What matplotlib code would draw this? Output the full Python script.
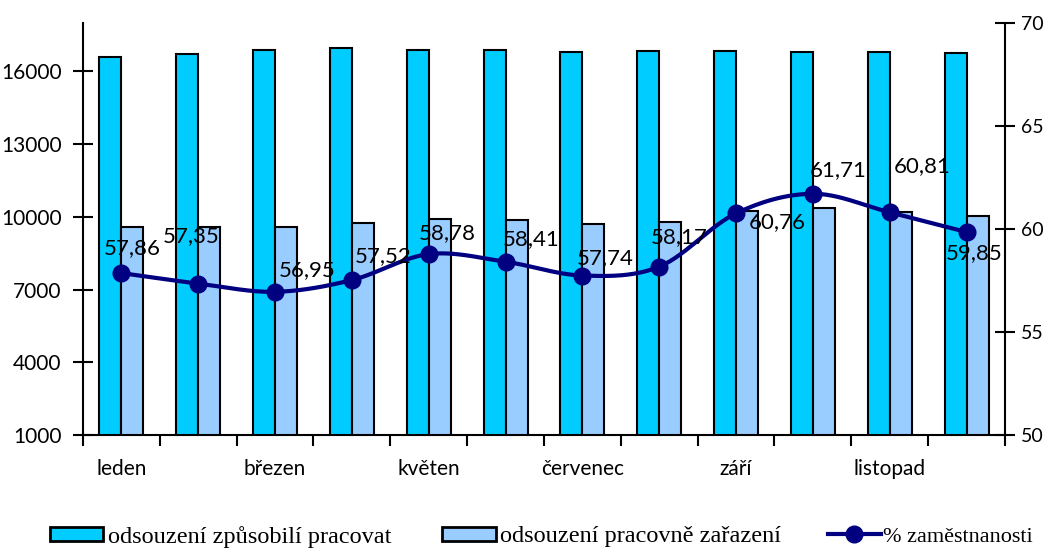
import numpy as np
import matplotlib
matplotlib.use('Agg')
import matplotlib.pyplot as plt
from matplotlib.patches import Patch
from matplotlib.lines import Line2D

months = ['leden', 'únor', 'březen', 'duben', 'květen', 'červen',
          'červenec', 'srpen', 'září', 'říjen', 'listopad', 'prosinec']
zpusobili = [16590, 16710, 16880, 16950, 16900, 16900,
             16810, 16830, 16850, 16810, 16790, 16760]
zarazeni = [9595, 9600, 9595, 9760, 9930, 9870,
            9720, 9790, 10230, 10380, 10200, 10020]
zamestnanost = [57.86, 57.35, 56.95, 57.52, 58.78, 58.41,
                57.74, 58.17, 60.76, 61.71, 60.81, 59.85]

# label offsets in pixels (dx, dy) relative to the marker
label_offsets = [(11, 25), (-7, 47), (32, 22), (31, 24), (19, 21), (26, 23),
                 (23, 17), (20, 30), (41, -9), (25, 24), (32, 46), (8, -21)]

c1 = '#00CCFF'
c2 = '#99CCFF'
navy = '#000080'
sans = ['Lato', 'DejaVu Sans']
serif = ['Liberation Serif', 'DejaVu Serif']


def catmull_rom(x, y, n=30):
    # smooth curve through the points, like Excel's "smoothed line"
    pts = np.column_stack([x, y]).astype(float)
    pts = np.vstack([2 * pts[0] - pts[1], pts, 2 * pts[-1] - pts[-2]])
    out = []
    t = np.linspace(0, 1, n)[:, None]
    for i in range(1, len(pts) - 2):
        p0, p1, p2, p3 = pts[i - 1], pts[i], pts[i + 1], pts[i + 2]
        seg = 0.5 * ((2 * p1) + (-p0 + p2) * t
                     + (2 * p0 - 5 * p1 + 4 * p2 - p3) * t ** 2
                     + (-p0 + 3 * p1 - 3 * p2 + p3) * t ** 3)
        out.append(seg if i == 1 else seg[1:])
    out = np.vstack(out)
    return out[:, 0], out[:, 1]


fig = plt.figure(figsize=(10.45, 5.49), dpi=100)
ax = fig.add_axes([0.0794, 0.2077, 0.8823, 0.7504])
ax2 = ax.twinx()

x = np.arange(len(months))
w = 0.286
ax.bar(x - w / 2, zpusobili, w, color=c1, edgecolor='black', linewidth=1.5, zorder=2)
ax.bar(x + w / 2, zarazeni, w, color=c2, edgecolor='black', linewidth=1.5, zorder=2)

ax.set_xlim(-0.5, len(months) - 0.5)
ax.set_ylim(1000, 18000)
ax.set_yticks([1000, 4000, 7000, 10000, 13000, 16000])

# ticks at category borders, labels at every other category centre
ax.set_xticks(np.arange(-0.5, len(months), 1.0))
ax.set_xticklabels([])
ax.set_xticks(x[::2], minor=True)
ax.set_xticklabels(months[::2], minor=True, fontsize=15, family=sans)
ax.tick_params(axis='x', which='major', direction='out', length=8, width=1.5)
ax.tick_params(axis='x', which='minor', length=0, pad=17)
ax.tick_params(axis='y', direction='inout', length=15, width=1.5, labelsize=15, pad=8)
for lab in ax.get_yticklabels():
    lab.set_family(sans)

for s in ['top', 'right']:
    ax.spines[s].set_visible(False)
ax.spines['left'].set_linewidth(1.5)
ax.spines['bottom'].set_linewidth(1.5)

sx, sy = catmull_rom(x, zamestnanost)
ax2.plot(sx, sy, color=navy, linewidth=3, zorder=3)
ax2.plot(x, zamestnanost, 'o', color=navy, markersize=12, zorder=4)
ax2.set_ylim(50, 70)
ax2.set_yticks([50, 55, 60, 65, 70])
ax2.tick_params(axis='y', direction='inout', length=15, width=1.5, labelsize=14, pad=4)
for lab in ax2.get_yticklabels():
    lab.set_family(sans)
for s in ['top', 'left', 'bottom']:
    ax2.spines[s].set_visible(False)
ax2.spines['right'].set_linewidth(1.5)

for xi, v, (dx, dy) in zip(x, zamestnanost, label_offsets):
    ax2.annotate(f'{v:.2f}'.replace('.', ','), (xi, v), xytext=(dx, dy),
                 textcoords='offset pixels', ha='center', va='center',
                 fontsize=16, family=sans, color='black', zorder=5)

# legend below the chart, three separate entries
handles = [
    Patch(facecolor=c1, edgecolor='black', linewidth=2),
    Patch(facecolor=c2, edgecolor='black', linewidth=2),
    Line2D([0], [0], color=navy, linewidth=3, marker='o', markersize=12),
]
names = ['odsouzení způsobilí pracovat', 'odsouzení pracovně zařazení', '% zaměstnanosti']
anchors = [0.0478, 0.423, 0.792]
pads = [0.2, 0.2, 0.1]
sizes = [17.5, 17.5, 16]
hlens = [2.2, 2.2, 2.4]
for h, n, a, p, fs, hl in zip(handles, names, anchors, pads, sizes, hlens):
    fig.legend([h], [n], loc='center left', bbox_to_anchor=(a, 0.022),
               frameon=False, handlelength=hl, handleheight=0.53, handletextpad=p,
               borderaxespad=0, borderpad=0, prop={'family': serif, 'size': fs})

fig.savefig('out.png', dpi=100)
